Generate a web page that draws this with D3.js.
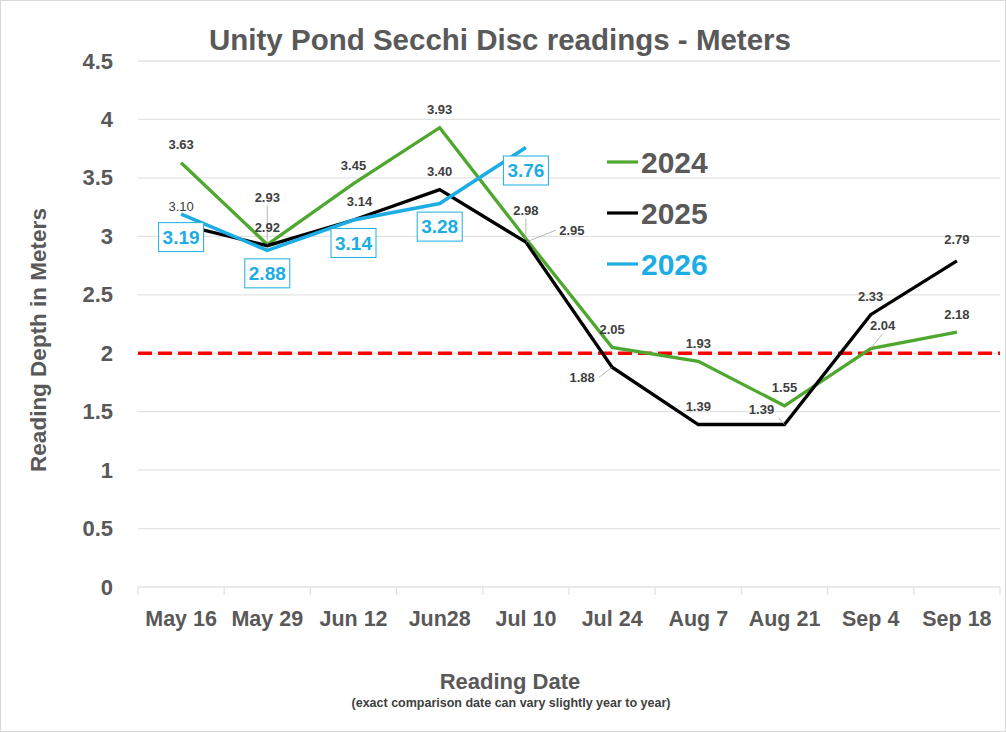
<!DOCTYPE html>
<html>
<head>
<meta charset="utf-8">
<script src="https://cdn.jsdelivr.net/npm/d3@7"></script>
<style>
  body { margin: 0; background: #fff; }
  text { font-family: "Liberation Sans", Arial, sans-serif; }
  .narrow { font-family: "Liberation Sans Narrow", "Liberation Sans", sans-serif; }
</style>
</head>
<body>
<div id="chart"></div>
<script>
// data
const dates = ['May 16', 'May 29', 'Jun 12', 'Jun28', 'Jul 10', 'Jul 24', 'Aug 7', 'Aug 21', 'Sep 4', 'Sep 18']
const years = ['2024', '2025', '2026']
const v2024 = [3.63, 2.93, 3.45, 3.93, 2.98, 2.05, 1.93, 1.55, 2.04, 2.18]
const v2025 = [3.10, 2.92, 3.14, 3.40, 2.95, 1.88, 1.39, 1.39, 2.33, 2.79]
const v2026 = [3.19, 2.88, 3.14, 3.28, 3.76]
const yTicks = [0, 0.5, 1, 1.5, 2, 2.5, 3, 3.5, 4, 4.5]
const threshold = 2

// label nudges (dx, dy) in pixels, one per point
const nudge2024 = [[0,-18],[0,-47],[0,-18],[0,-18],[0,-28],[0,-18],[0,-18],[0,-18],[12,-23],[0,-18]]
const nudge2025 = [[0,-18],[0,-18],[6,-19],[0,-18],[46,-12],[-30,10],[0,-18],[-23,-15],[0,-18],[0,-21]]
const nudge2026 = [[0,23],[0,23],[0,23],[0,23],[0,23]]

const width = 1006
const height = 732
const margin = { top: 61, right: 6, bottom: 145, left: 138 }
const colors = { '2024': '#4ea72e', '2025': '#000000', '2026': '#1cade4' }

const svg = d3.select('#chart').append('svg').attr('width', width).attr('height', height)
svg.append('rect').attr('x', 0.5).attr('y', 0.5).attr('width', width - 1).attr('height', height - 1)
    .attr('fill', '#fff').attr('stroke', '#d9d9d9')

const x = d3.scaleBand().domain(dates).range([margin.left, width - margin.right])
const y = d3.scaleLinear().domain([0, 4.5]).range([height - margin.bottom, margin.top])
const cx = d => x(d) + x.bandwidth() / 2

// gridlines
svg.append('g').selectAll('line').data(yTicks).enter().append('line')
    .attr('x1', margin.left).attr('x2', width - margin.right)
    .attr('y1', d => y(d)).attr('y2', d => y(d))
    .attr('stroke', '#e3e3e3').attr('stroke-width', 1.3)

// axes
const yAxis = d3.axisLeft(y).tickValues(yTicks).tickSize(0).tickPadding(25).tickFormat(d3.format('~g'))
svg.append('g').attr('transform', `translate(${margin.left},0)`).call(yAxis)
    .call(g => g.select('.domain').remove())
    .selectAll('text').attr('font-size', 22).attr('font-weight', 'bold').attr('fill', '#595959')
    .attr('font-family', '"Liberation Sans", Arial, sans-serif')

const xAxis = d3.axisBottom(x).tickSize(0).tickPadding(24)
const xg = svg.append('g').attr('transform', `translate(0,${y(0)})`).call(xAxis)
xg.select('.domain').remove()
xg.selectAll('text').attr('class', 'narrow').attr('font-size', 21.5).attr('font-weight', 'bold').attr('fill', '#595959')
    .attr('font-family', '"Liberation Sans Narrow", "Liberation Sans", sans-serif')
// category boundary ticks
svg.append('g').selectAll('line').data(d3.range(dates.length + 1)).enter().append('line')
    .attr('x1', i => margin.left + i * x.bandwidth()).attr('x2', i => margin.left + i * x.bandwidth())
    .attr('y1', y(0)).attr('y2', y(0) + 8).attr('stroke', '#e3e3e3').attr('stroke-width', 1.3)

// threshold line
svg.append('line').attr('x1', margin.left).attr('x2', width - margin.right)
    .attr('y1', y(threshold)).attr('y2', y(threshold))
    .attr('stroke', '#ff0000').attr('stroke-width', 3.5).attr('stroke-dasharray', '14,6')

// series lines
const series = [
    { year: '2024', values: v2024, nudge: nudge2024 },
    { year: '2025', values: v2025, nudge: nudge2025 },
    { year: '2026', values: v2026, nudge: nudge2026 }
]
const line = d3.line().x((d, i) => cx(dates[i])).y(d => y(d))
series.forEach(s => {
    svg.append('path').datum(s.values).attr('d', line)
        .attr('fill', 'none').attr('stroke', colors[s.year])
        .attr('stroke-width', s.year === '2026' ? 3.6 : 3.3).attr('stroke-linejoin', 'miter')
})

// data labels
series.forEach(s => {
    const boxed = s.year === '2026'
    const g = svg.append('g')
    s.values.forEach((v, i) => {
        const px = cx(dates[i]), py = y(v)
        const lx = px + s.nudge[i][0], ly = py + s.nudge[i][1]
        const txt = v.toFixed(2)
        if (boxed) {
            g.append('rect').attr('x', lx - 22.5).attr('y', ly - 14.5).attr('width', 45).attr('height', 29)
                .attr('fill', '#fff').attr('stroke', colors[s.year]).attr('stroke-width', 1)
            g.append('text').attr('x', lx).attr('y', ly).attr('text-anchor', 'middle').attr('dy', '0.35em')
                .attr('font-size', 19).attr('font-weight', 'bold').attr('fill', colors[s.year]).text(txt)
        } else {
            if (Math.abs(s.nudge[i][1]) > 22 || Math.abs(s.nudge[i][0]) > 10) {
                const ex = s.nudge[i][0] < -10 ? lx + 17 : (s.nudge[i][0] > 10 && s.nudge[i][1] > -15 ? lx - 16 : lx)
                const ey = s.nudge[i][1] > 0 ? ly : (s.nudge[i][0] > 10 && s.nudge[i][1] > -15 ? ly : ly + 8)
                g.append('line').attr('x1', ex).attr('y1', ey).attr('x2', px).attr('y2', py)
                    .attr('stroke', '#a6a6a6').attr('stroke-width', 0.8)
            }
            g.append('text').attr('x', lx).attr('y', ly).attr('text-anchor', 'middle').attr('dy', '0.35em')
                .attr('font-size', 13).attr('font-weight', s.year === '2025' && i === 0 ? 'normal' : 'bold')
                .attr('fill', '#404040').text(txt)
        }
    })
})

// legend
const legend = svg.append('g').attr('transform', 'translate(607,162)')
years.forEach((yr, i) => {
    const row = legend.append('g').attr('transform', `translate(0,${i * 51})`)
    row.append('line').attr('x1', 0).attr('x2', 31).attr('stroke', colors[yr]).attr('stroke-width', 3.2)
    row.append('text').attr('x', 34).attr('dy', '0.35em').attr('font-size', 30).attr('font-weight', 'bold')
        .attr('fill', yr === '2026' ? colors[yr] : '#595959').text(yr)
})

// titles
svg.append('text').attr('x', 500).attr('y', 50).attr('text-anchor', 'middle')
    .attr('font-size', 29.5).attr('font-weight', 'bold').attr('fill', '#595959')
    .text('Unity Pond Secchi Disc readings - Meters')
svg.append('text').attr('transform', 'translate(46,340) rotate(-90)').attr('text-anchor', 'middle')
    .attr('font-size', 22.5).attr('font-weight', 'bold').attr('fill', '#595959').text('Reading Depth in Meters')
svg.append('text').attr('class', 'narrow').attr('x', 510).attr('y', 689).attr('text-anchor', 'middle')
    .attr('font-size', 22).attr('font-weight', 'bold').attr('fill', '#595959').text('Reading Date')
svg.append('text').attr('class', 'narrow').attr('x', 511).attr('y', 707).attr('text-anchor', 'middle')
    .attr('font-size', 12.5).attr('font-weight', 'bold').attr('fill', '#404040')
    .text('(exact comparison date can vary slightly year to year)')
</script>
</body>
</html>
